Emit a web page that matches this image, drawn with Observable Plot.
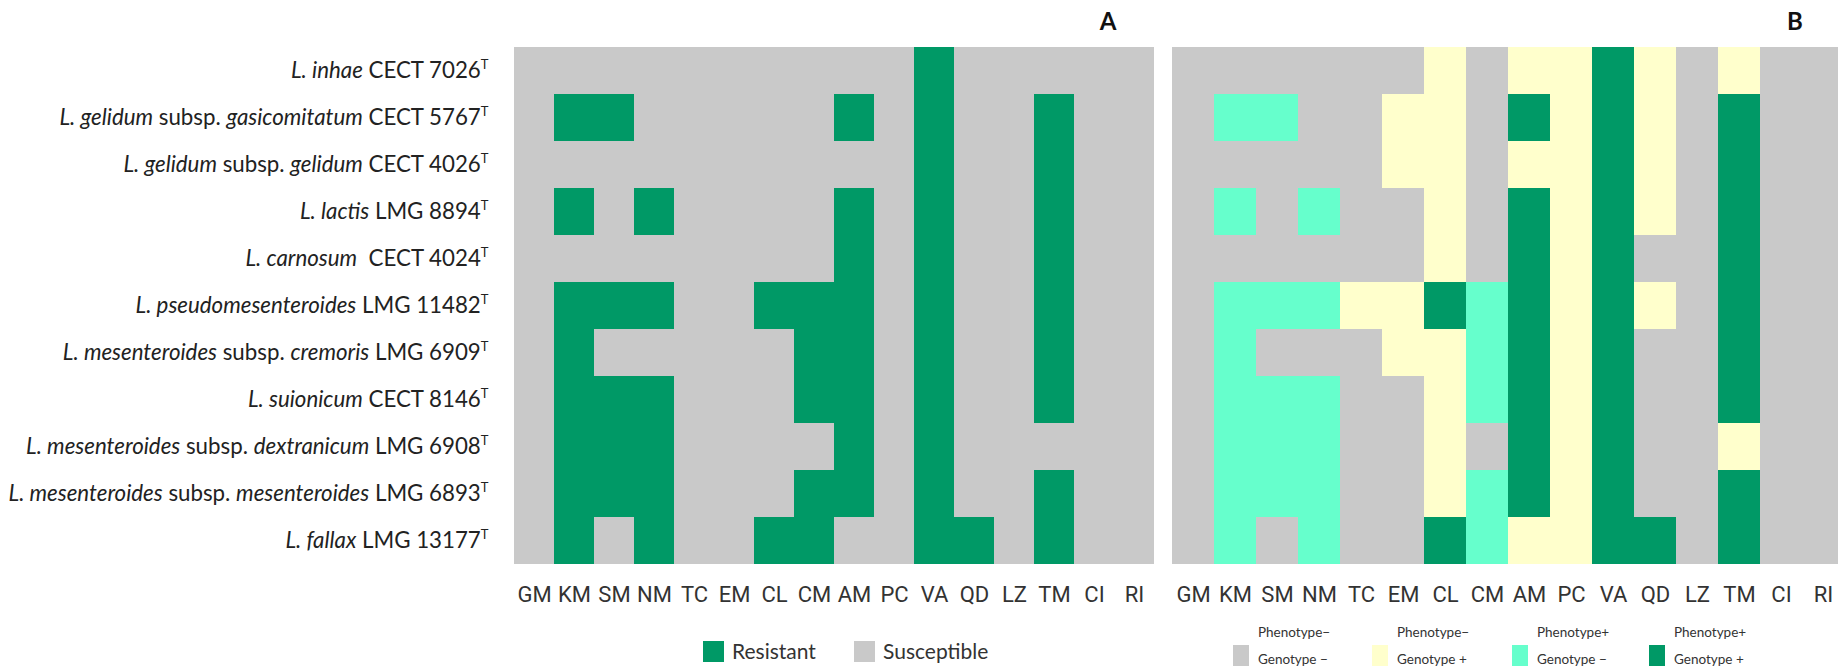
<!DOCTYPE html>
<html><head><meta charset="utf-8">
<script src="https://cdn.jsdelivr.net/npm/d3@7"></script>
<script src="https://cdn.jsdelivr.net/npm/@observablehq/plot@0.6"></script>
<style>
html,body{margin:0;padding:0;background:#fff;overflow:hidden;width:1838px;height:666px;}
#wrap{position:relative;width:1838px;height:666px;overflow:hidden;}
.abs{position:absolute;}
.panel svg{max-width:none !important;display:block;overflow:visible;}
.letter{font-family:Lato,sans-serif;font-weight:bold;font-size:24px;color:#111;transform:translate(-50%,0);}
.lgA{font-family:Lato,sans-serif;font-size:21px;color:#333;line-height:22px;}
.lgB{font-family:Lato,sans-serif;font-size:13.5px;color:#333;}
</style></head><body><div id="wrap"></div>
<script>
// ---- data ----
const antibiotics = ["GM","KM","SM","NM","TC","EM","CL","CM","AM","PC","VA","QD","LZ","TM","CI","RI"];
const strains = [
  "*L. inhae* CECT 7026^T",
  "*L. gelidum* subsp. *gasicomitatum* CECT 5767^T",
  "*L. gelidum* subsp. *gelidum* CECT 4026^T",
  "*L. lactis* LMG 8894^T",
  "*L. carnosum*  CECT 4024^T",
  "*L. pseudomesenteroides* LMG 11482^T",
  "*L. mesenteroides* subsp. *cremoris* LMG 6909^T",
  "*L. suionicum* CECT 8146^T",
  "*L. mesenteroides* subsp. *dextranicum* LMG 6908^T",
  "*L. mesenteroides* subsp. *mesenteroides* LMG 6893^T",
  "*L. fallax* LMG 13177^T"
];
// Panel A: 1 = Resistant, 0 = Susceptible (columns follow antibiotics)
const resistA = [
  [0,0,0,0,0,0,0,0,0,0,1,0,0,0,0,0],
  [0,1,1,0,0,0,0,0,1,0,1,0,0,1,0,0],
  [0,0,0,0,0,0,0,0,0,0,1,0,0,1,0,0],
  [0,1,0,1,0,0,0,0,1,0,1,0,0,1,0,0],
  [0,0,0,0,0,0,0,0,1,0,1,0,0,1,0,0],
  [0,1,1,1,0,0,1,1,1,0,1,0,0,1,0,0],
  [0,1,0,0,0,0,0,1,1,0,1,0,0,1,0,0],
  [0,1,1,1,0,0,0,1,1,0,1,0,0,1,0,0],
  [0,1,1,1,0,0,0,0,1,0,1,0,0,0,0,0],
  [0,1,1,1,0,0,0,1,1,0,1,0,0,1,0,0],
  [0,1,0,1,0,0,1,1,0,0,1,1,0,1,0,0]
];
// Panel B: 0 = Phen-/Gen-, 1 = Phen-/Gen+, 2 = Phen+/Gen-, 3 = Phen+/Gen+
const statusB = [
  [0,0,0,0,0,0,1,0,1,1,3,1,0,1,0,0],
  [0,2,2,0,0,1,1,0,3,1,3,1,0,3,0,0],
  [0,0,0,0,0,1,1,0,1,1,3,1,0,3,0,0],
  [0,2,0,2,0,0,1,0,3,1,3,1,0,3,0,0],
  [0,0,0,0,0,0,1,0,3,1,3,0,0,3,0,0],
  [0,2,2,2,1,1,3,2,3,1,3,1,0,3,0,0],
  [0,2,0,0,0,1,1,2,3,1,3,0,0,3,0,0],
  [0,2,2,2,0,0,1,2,3,1,3,0,0,3,0,0],
  [0,2,2,2,0,0,1,0,3,1,3,0,0,1,0,0],
  [0,2,2,2,0,0,1,2,3,1,3,0,0,3,0,0],
  [0,2,0,2,0,0,3,2,1,1,3,3,0,3,0,0]
];
const legendA = ["Resistant","Susceptible"];
const legendB = [["Phenotype\u2212","Genotype \u2212"],["Phenotype\u2212","Genotype +"],["Phenotype+","Genotype \u2212"],["Phenotype+","Genotype +"]];
const colorsA = ["#c9c9c9","#009966"];
const colorsB = ["#c9c9c9","#ffffcc","#66ffcc","#009966"];

// ---- build ----
const wrap = document.getElementById("wrap");
const tickFont = "Roboto, sans-serif";

function cellsFrom(grid){
  const out = [];
  strains.forEach((s,i)=>antibiotics.forEach((a,j)=>out.push({strain:s, ab:a, v:grid[i][j]})));
  return out;
}

const plotA = Plot.plot({
  width:1160, height:620, marginLeft:512, marginRight:4, marginTop:44, marginBottom:54,
  x:{domain:antibiotics, padding:0, axis:null},
  y:{domain:strains, padding:0, axis:null},
  color:{type:"ordinal", domain:[0,1], range:colorsA},
  marks:[
    Plot.cell(cellsFrom(resistA), {x:"ab", y:"strain", fill:"v", inset:0, shapeRendering:"crispEdges"}),
    Plot.axisX({tickSize:0, tickPadding:20, label:null, fontSize:22, fontFamily:tickFont, fill:"#333"}),
    Plot.axisY({tickSize:0, tickPadding:24, label:null, fontSize:22.3, fontFamily:"Lato, sans-serif", fill:"#222"})
  ]
});
const plotB = Plot.plot({
  width:684, height:620, marginLeft:12, marginRight:0, marginTop:44, marginBottom:54,
  x:{domain:antibiotics, padding:0, axis:null},
  y:{domain:strains, padding:0, axis:null},
  color:{type:"ordinal", domain:[0,1,2,3], range:colorsB},
  marks:[
    Plot.cell(cellsFrom(statusB), {x:"ab", y:"strain", fill:"v", inset:0, shapeRendering:"crispEdges"}),
    Plot.axisX({tickSize:0, tickPadding:20, label:null, fontSize:22, fontFamily:tickFont, fill:"#333"})
  ]
});

function place(el, left, top, cls){
  const d = document.createElement("div");
  d.className = "abs " + (cls||"");
  d.style.left = left + "px"; d.style.top = top + "px";
  d.appendChild(el); wrap.appendChild(d); return d;
}
place(plotA, 0, 0, "panel");
place(plotB, 1160, 0, "panel");

// rich y-axis labels: italics and superscript
const NS = "http://www.w3.org/2000/svg";
plotA.querySelectorAll('g[aria-label="y-axis tick label"] text').forEach(t=>{
  const raw = t.textContent;
  while (t.firstChild) t.removeChild(t.firstChild);
  raw.split(/(\*[^*]+\*|\^T)/).filter(p=>p.length).forEach(p=>{
    const ts = document.createElementNS(NS,"tspan");
    if (p.startsWith("*")) { ts.textContent = p.slice(1,-1); ts.setAttribute("font-style","italic"); }
    else if (p === "^T") { ts.textContent = "T"; ts.setAttribute("font-size","13"); ts.setAttribute("dy","-9"); }
    else ts.textContent = p;
    t.appendChild(ts);
  });
});

// panel letters
[["A",1108],["B",1795]].forEach(([txt,x])=>{
  const d = document.createElement("div"); d.textContent = txt; d.className="letter";
  place(d, x, 6, "");
});

// legend A
legendA.forEach((lab,i)=>{
  const sx = [703,854][i], tx = [732,883][i];
  const sq = document.createElement("div");
  sq.style.cssText = `width:21px;height:21px;background:${colorsA[1-i]}`;
  place(sq, sx, 641);
  const t = document.createElement("div"); t.className="lgA"; t.textContent = lab;
  place(t, tx, 640);
});
// legend B
legendB.forEach((lines,i)=>{
  const sx = [1233,1372,1512,1649][i];
  const sq = document.createElement("div");
  sq.style.cssText = `width:16px;height:24px;background:${colorsB[i]}`;
  place(sq, sx, 645);
  lines.forEach((ln,k)=>{
    const t = document.createElement("div"); t.className="lgB"; t.textContent = ln;
    t.style.lineHeight = "14px";
    place(t, sx+25, 625 + k*27);
  });
});
</script></body></html>
